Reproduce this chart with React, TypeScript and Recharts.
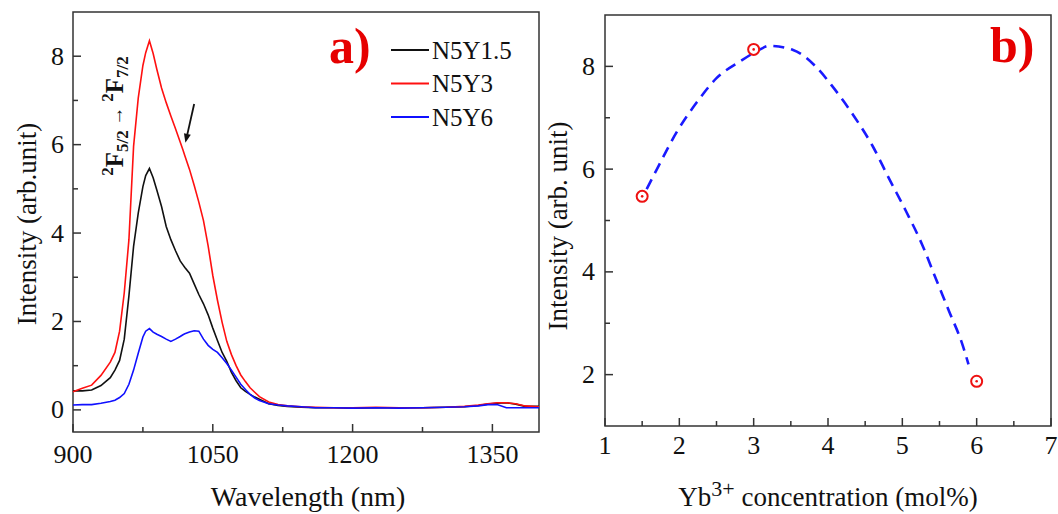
import React from "react";
import {
    LineChart,
    ComposedChart,
    Line,
    Scatter,
    XAxis,
    YAxis,
    ReferenceArea,
    ReferenceLine,
} from "recharts";

// panel a) emission spectra
const wavelengths = [
    900, 910, 920, 930, 940, 945, 950, 955, 960, 965, 970, 975, 978, 982, 986, 990, 995, 1000,
    1005, 1010, 1015, 1018, 1020, 1025, 1030, 1035, 1040, 1045, 1050, 1055, 1060, 1065, 1070,
    1075, 1080, 1085, 1090, 1095, 1100, 1110, 1120, 1130, 1145, 1160, 1180, 1200, 1225, 1250,
    1275, 1300, 1320, 1335, 1345, 1355, 1365, 1375, 1385, 1400,
];
const n5y15 = [
    0.43, 0.43, 0.45, 0.55, 0.73, 0.9, 1.12, 1.6, 2.58, 3.7, 4.45, 5.05, 5.3, 5.46, 5.25, 4.97,
    4.6, 4.15, 3.85, 3.6, 3.37, 3.28, 3.22, 3.09, 2.85, 2.61, 2.4, 2.15, 1.85, 1.57, 1.3, 1.1,
    0.85, 0.66, 0.5, 0.42, 0.35, 0.29, 0.24, 0.14, 0.1, 0.08, 0.06, 0.05, 0.05, 0.04, 0.05, 0.05,
    0.05, 0.06, 0.07, 0.1, 0.13, 0.15, 0.16, 0.13, 0.08, 0.08,
];
const n5y3 = [
    0.41, 0.49, 0.56, 0.78, 1.08, 1.3, 1.78, 2.65, 3.85, 5.96, 7.05, 7.79, 8.08, 8.35, 8.06,
    7.7, 7.28, 6.95, 6.65, 6.36, 6.06, 5.88, 5.75, 5.44, 5.08, 4.7, 4.28, 3.71, 3.04, 2.48,
    1.98, 1.55, 1.25, 1.0, 0.79, 0.64, 0.5, 0.4, 0.3, 0.18, 0.12, 0.09, 0.07, 0.06, 0.05, 0.05,
    0.06, 0.05, 0.05, 0.06, 0.08, 0.11, 0.14, 0.16, 0.16, 0.14, 0.09, 0.07,
];
const n5y6 = [
    0.11, 0.12, 0.12, 0.15, 0.19, 0.22, 0.28, 0.37, 0.58, 0.9, 1.28, 1.65, 1.78, 1.84, 1.76,
    1.71, 1.66, 1.6, 1.55, 1.6, 1.66, 1.7, 1.72, 1.76, 1.79, 1.78, 1.6, 1.46, 1.37, 1.3, 1.18,
    1.05, 0.9, 0.74, 0.58, 0.46, 0.35, 0.27, 0.21, 0.14, 0.11, 0.09, 0.07, 0.05, 0.05, 0.04,
    0.05, 0.04, 0.05, 0.06, 0.07, 0.09, 0.12, 0.12, 0.05, 0.05, 0.05, 0.05,
];
const wlTicks = [900, 975, 1050, 1125, 1200, 1275, 1350];
const wlMajor = [900, 1050, 1200, 1350];
const intTicks = [0, 1, 2, 3, 4, 5, 6, 7, 8];
const intMajor = [0, 2, 4, 6, 8];

// panel b) peak intensity vs concentration
const concentrations = [1.5, 3, 6];
const peakIntensity = [5.47, 8.33, 1.87];
const fitX = [1.56, 1.72, 1.96, 2.23, 2.5, 2.81, 3.05, 3.21, 3.53, 3.84, 4.06, 4.35, 4.6, 4.82, 5.05, 5.27, 5.45, 5.63, 5.81, 5.89];
const fitY = [5.61, 6.06, 6.71, 7.29, 7.77, 8.09, 8.3, 8.4, 8.32, 7.99, 7.61, 7.03, 6.45, 5.82, 5.18, 4.52, 3.87, 3.23, 2.58, 2.2];
const concTicks = [1, 1.5, 2, 2.5, 3, 3.5, 4, 4.5, 5, 5.5, 6, 6.5, 7];
const concMajor = [1, 2, 3, 4, 5, 6, 7];
const bTicks = [2, 3, 4, 5, 6, 7, 8];
const bMajor = [2, 4, 6, 8];

const series = [
    { key: "a", name: "N5Y1.5", color: "#111111" },
    { key: "b", name: "N5Y3", color: "#ff1010" },
    { key: "c", name: "N5Y6", color: "#1010ff" },
];

const spectrumData = wavelengths.map((w, i) => ({ w, a: n5y15[i], b: n5y3[i], c: n5y6[i] }));
const fitData = fitX.map((x, i) => ({ x, y: fitY[i] }));
const pointData = concentrations.map((x, i) => ({ x, y: peakIntensity[i] }));

const FONT = "'Liberation Serif', 'Times New Roman', serif";
const AXIS = "#333";

const bottomTick = (majors: number[], gap: number) => (props: any) => {
    const { x, y, payload } = props;
    const major = majors.includes(payload.value);
    return (
        <g>
            <line x1={x} y1={y} x2={x} y2={y - (major ? 8 : 5)} stroke={AXIS} strokeWidth={1.5} />
            {major && (
                <text x={x} y={y + gap} textAnchor="middle" dominantBaseline="central" fontSize={26} fill="#111" fontFamily={FONT}>
                    {payload.value}
                </text>
            )}
        </g>
    );
};

const leftTick = (majors: number[], gap: number) => (props: any) => {
    const { x, y, payload } = props;
    const major = majors.includes(payload.value);
    return (
        <g>
            <line x1={x} y1={y} x2={x + (major ? 8 : 5)} y2={y} stroke={AXIS} strokeWidth={1.5} />
            {major && (
                <text x={x - gap} y={y} textAnchor="end" dominantBaseline="central" fontSize={26} fill="#111" fontFamily={FONT}>
                    {payload.value}
                </text>
            )}
        </g>
    );
};

const Arrow = (p: any) => {
    const { x1, y1, x2, y2 } = p;
    const ang = Math.atan2(y2 - y1, x2 - x1);
    const hl = 9;
    const hw = 3.5;
    const bx = x2 - hl * Math.cos(ang);
    const by = y2 - hl * Math.sin(ang);
    const px = -Math.sin(ang) * hw;
    const py = Math.cos(ang) * hw;
    return (
        <g>
            <line x1={x1} y1={y1} x2={bx} y2={by} stroke="#111" strokeWidth={1.8} />
            <polygon points={`${x2},${y2} ${bx + px},${by + py} ${bx - px},${by - py}`} fill="#111" />
        </g>
    );
};

const RingDot = (props: any) => {
    const { cx, cy } = props;
    return (
        <g>
            <circle cx={cx} cy={cy} r={5.5} fill="#fff" stroke="#ee1111" strokeWidth={2} />
            <circle cx={cx} cy={cy} r={1.3} fill="#ee1111" />
        </g>
    );
};

const SpectraPanel = () => (
    <LineChart
        width={540}
        height={514}
        data={spectrumData}
        margin={{ top: 12, right: 1, left: 0, bottom: 0 }}
        style={{ fontFamily: FONT }}
    >
        <XAxis
            dataKey="w"
            type="number"
            domain={[900, 1400]}
            ticks={wlTicks}
            interval={0}
            axisLine={false}
            tickLine={false}
            tickSize={0}
            tickMargin={0}
            height={82}
            tick={bottomTick(wlMajor, 22)}
        />
        <YAxis
            type="number"
            domain={[-0.5, 9]}
            ticks={intTicks}
            interval={0}
            axisLine={false}
            tickLine={false}
            tickSize={0}
            tickMargin={0}
            width={73}
            tick={leftTick(intMajor, 9)}
        />
        <ReferenceArea x1={900} x2={1400} y1={-0.5} y2={9} fill="none" stroke={AXIS} strokeWidth={1.5} fillOpacity={0} ifOverflow="visible" />
        {series.map((s) => (
            <Line
                key={s.key}
                dataKey={s.key}
                name={s.name}
                stroke={s.color}
                strokeWidth={1.6}
                type="linear"
                dot={false}
                isAnimationActive={false}
            />
        ))}
        <ReferenceLine
            segment={[{ x: 1030, y: 6.92 }, { x: 1020.6, y: 6.04 }]}
            shape={Arrow}
            ifOverflow="visible"
        />
        <text x={329} y={63} fill="#e60000" fontSize={50} fontWeight="bold" fontFamily={FONT}>
            a)
        </text>
        {series.map((s, i) => (
            <g key={s.key}>
                <line x1={391} x2={429} y1={50 + i * 33.5} y2={50 + i * 33.5} stroke={s.color} strokeWidth={1.8} />
                <text x={432} y={50 + i * 33.5} dominantBaseline="central" fontSize={25} fill="#111" fontFamily={FONT}>
                    {s.name}
                </text>
            </g>
        ))}
        <text
            transform="rotate(-90 123 116)"
            x={123}
            y={116}
            textAnchor="middle"
            fontSize={25}
            fontWeight="bold"
            fill="#111"
            fontFamily={FONT}
        >
            <tspan fontSize={17} dy={-10}>2</tspan>
            <tspan dy={10}>F</tspan>
            <tspan fontSize={17} dy={5}>5/2</tspan>
            <tspan dy={-5} fontWeight="normal" fontSize={19}> → </tspan>
            <tspan fontSize={17} dy={-10}>2</tspan>
            <tspan dy={10}>F</tspan>
            <tspan fontSize={17} dy={5}>7/2</tspan>
        </text>
        <text transform="rotate(-90 27 224)" x={27} y={224} textAnchor="middle" dominantBaseline="central" fontSize={27} fill="#111" fontFamily={FONT}>
            Intensity (arb.unit)
        </text>
        <text x={308} y={506} textAnchor="middle" fontSize={28} fill="#111" fontFamily={FONT}>
            Wavelength (nm)
        </text>
    </LineChart>
);

const ConcentrationPanel = () => (
    <ComposedChart
        width={518}
        height={514}
        margin={{ top: 15, right: 7, left: 0, bottom: 0 }}
        style={{ fontFamily: FONT }}
    >
        <XAxis
            dataKey="x"
            type="number"
            domain={[1, 7]}
            ticks={concTicks}
            interval={0}
            axisLine={false}
            tickLine={false}
            tickSize={0}
            tickMargin={0}
            height={88}
            tick={bottomTick(concMajor, 19)}
        />
        <YAxis
            dataKey="y"
            type="number"
            domain={[1, 9]}
            ticks={bTicks}
            interval={0}
            axisLine={false}
            tickLine={false}
            tickSize={0}
            tickMargin={0}
            width={65}
            tick={leftTick(bMajor, 10)}
        />
        <ReferenceArea x1={1} x2={7} y1={1} y2={9} fill="none" stroke={AXIS} strokeWidth={1.5} fillOpacity={0} ifOverflow="visible" />
        <Line
            data={fitData}
            dataKey="y"
            type="monotone"
            stroke="#1a1aff"
            strokeWidth={2.6}
            strokeDasharray="11 7"
            dot={false}
            isAnimationActive={false}
        />
        <Scatter data={pointData} dataKey="y" shape={RingDot} isAnimationActive={false} />
        <text x={450} y={62} fill="#e60000" fontSize={50} fontWeight="bold" fontFamily={FONT}>
            b)
        </text>
        <text transform="rotate(-90 18 226)" x={18} y={226} textAnchor="middle" dominantBaseline="central" fontSize={27} fill="#111" fontFamily={FONT}>
            Intensity (arb. unit)
        </text>
        <text x={288} y={506} textAnchor="middle" fontSize={27} fill="#111" fontFamily={FONT}>
            Yb
            <tspan fontSize={22} dy={-10}>3+</tspan>
            <tspan dy={10}> concentration (mol%)</tspan>
        </text>
    </ComposedChart>
);

export default function App() {
    return (
        <div style={{ position: "absolute", left: 0, top: 0, width: 1058, height: 514, background: "#fff", display: "flex" }}>
            <SpectraPanel />
            <ConcentrationPanel />
        </div>
    );
}
